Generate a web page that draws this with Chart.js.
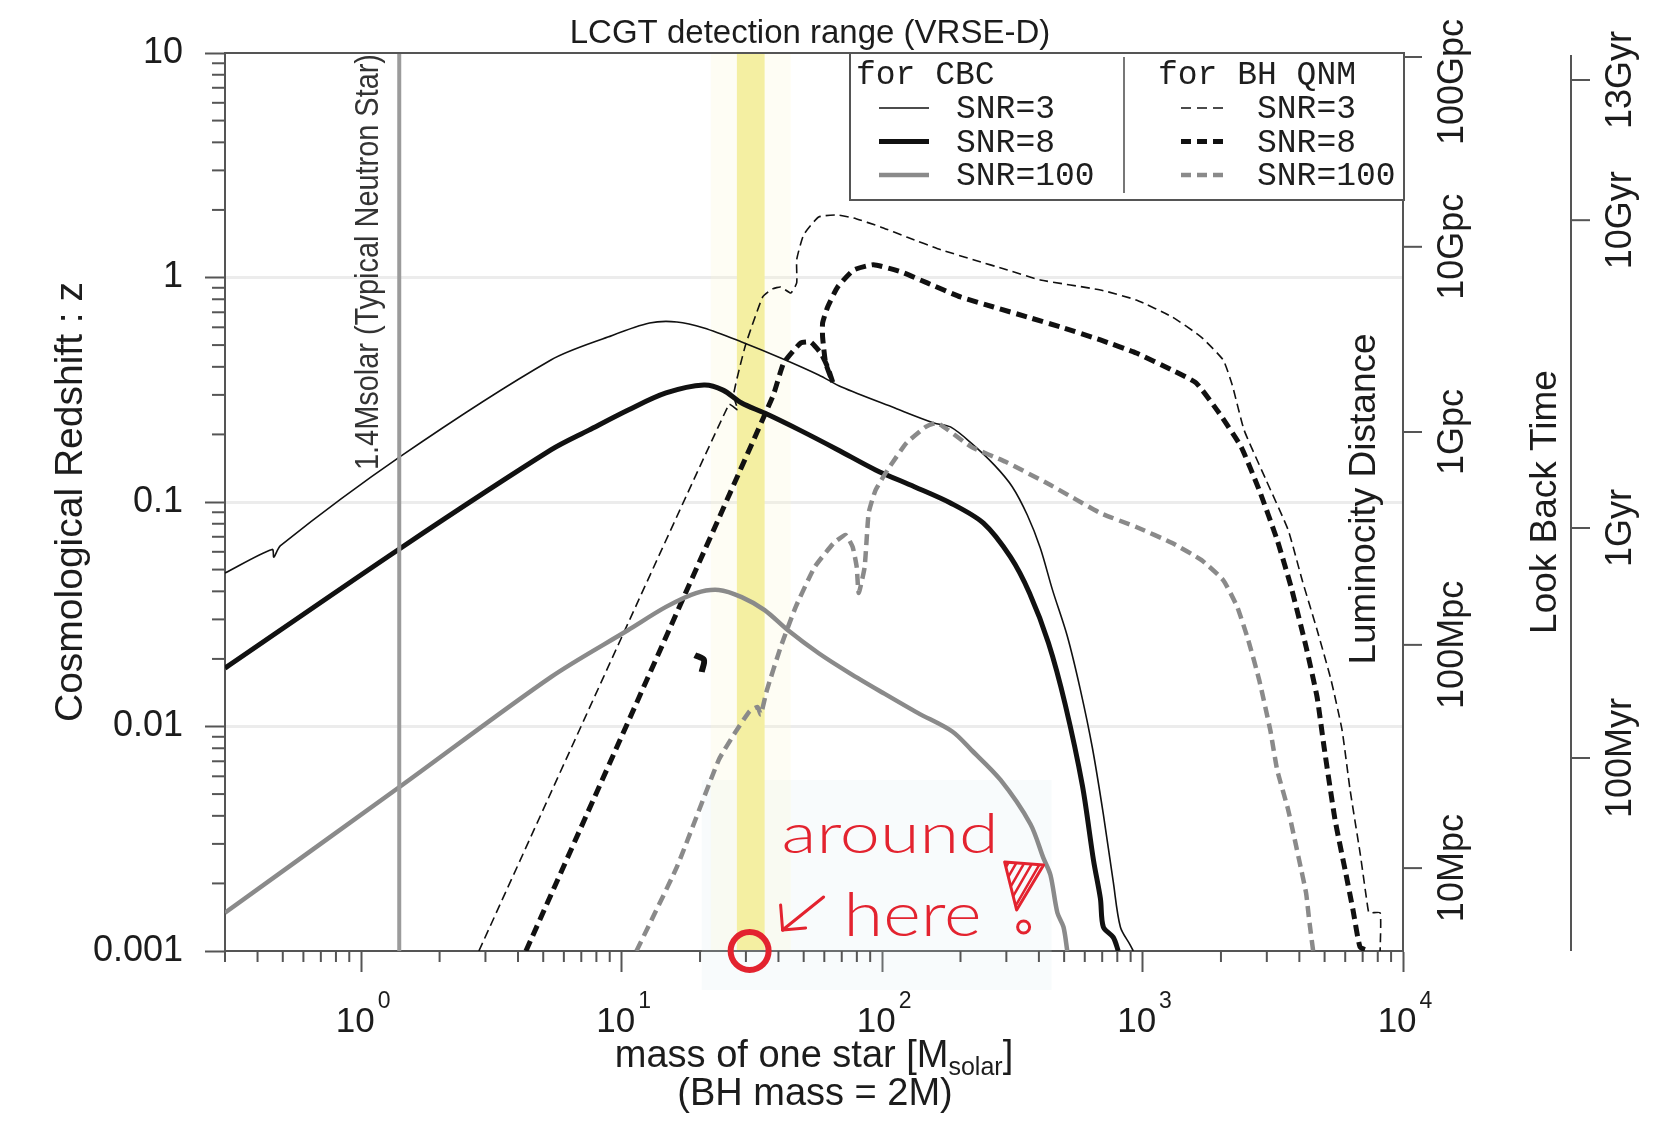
<!DOCTYPE html>
<html>
<head>
<meta charset="utf-8">
<title>LCGT detection range (VRSE-D)</title>
<script src="https://cdn.jsdelivr.net/npm/chart.js@4.4.1/dist/chart.umd.min.js"></script>
<style>
    html, body { margin: 0; padding: 0; background: #fff; }
</style>
</head>
<body>
<canvas id="chart" width="1666" height="1122"></canvas>
<script>
// tick values / labels
const massTicks = [1, 10, 100, 1000, 10000];
const redshiftTicks = [0.001, 0.01, 0.1, 1, 10];
const redshiftTickLabels = ['0.001', '0.01', '0.1', '1', '10'];
const distanceTickZ = [9.6, 1.37, 0.205, 0.0231, 0.00234];
const distanceTickLabels = ['100Gpc', '10Gpc', '1Gpc', '100Mpc', '10Mpc'];
const lookbackTickZ = [7.58, 1.80, 0.0766, 0.00724];
const lookbackTickLabels = ['13Gyr', '10Gyr', '1Gyr', '100Myr'];

// [mass of one star, redshift z]
const cbcSnr3 = [
    [0.3, 0.0483], [0.455, 0.0615], [0.462, 0.0568], [0.49, 0.064], [1.42, 0.16], [5.35, 0.429],
    [8.85, 0.543], [12.8, 0.627], [16.3, 0.634], [20.7, 0.596], [28.9, 0.516], [40.8, 0.438],
    [57.1, 0.368], [69.9, 0.325], [112, 0.262], [158, 0.225], [183, 0.216], [220, 0.183],
    [270, 0.146], [316, 0.117], [361, 0.0875], [405, 0.0624], [451, 0.0406], [514, 0.0253],
    [577, 0.0146], [642, 0.00802], [707, 0.00407], [772, 0.00203], [822, 0.00128],
    [898, 0.00106], [921, 0.001]
];
const cbcSnr8 = [
    [0.3, 0.0182], [1.42, 0.0624], [5.35, 0.1705], [7.49, 0.209], [10.6, 0.257], [14.8, 0.306],
    [20.7, 0.332], [24.5, 0.315], [28.9, 0.276], [35.4, 0.249], [48.3, 0.209], [67.5, 0.171],
    [94.4, 0.139], [133, 0.117], [183, 0.099], [245, 0.0805], [311, 0.0569], [368, 0.0393],
    [435, 0.0236], [505, 0.0125], [588, 0.00543], [648, 0.00254], [689, 0.00171],
    [707, 0.00128], [772, 0.00115], [807, 0.001]
];
const cbcSnr100 = [
    [0.3, 0.00148], [1.42, 0.00543], [5.35, 0.0166], [10.6, 0.0269], [14.8, 0.0341],
    [19.3, 0.0393], [23.6, 0.0406], [28.9, 0.0377], [35.4, 0.033], [43.4, 0.0269],
    [57.1, 0.0212], [75, 0.0173], [101, 0.0141], [137, 0.0115], [186, 0.0095], [220, 0.00787],
    [285, 0.00578], [371, 0.00368], [416, 0.0026], [443, 0.00218], [471, 0.00148],
    [497, 0.00128], [514, 0.001]
];
const qnmSnr3 = [
    [2.83, 0.001], [25.8, 0.272], [27.9, 0.257], [26.9, 0.3], [29.9, 0.5], [34.8, 0.819],
    [38, 0.89], [40.8, 0.907], [44.6, 0.853], [47, 0.946], [47, 1.2], [50, 1.55], [57.1, 1.86],
    [67, 1.9], [77.8, 1.84], [98.7, 1.68], [125, 1.51], [168, 1.33], [224, 1.2], [303, 1.08],
    [405, 0.975], [689, 0.88], [946, 0.794], [1300, 0.667], [1680, 0.543], [2040, 0.429],
    [2210, 0.332], [2455, 0.209], [2983, 0.125], [3624, 0.075], [4100, 0.0449], [4680, 0.0269],
    [5295, 0.0161], [5835, 0.00964], [6265, 0.00521], [6844, 0.00273], [7280, 0.00164],
    [7410, 0.00148], [8170, 0.00148], [8170, 0.001]
];
const qnmSnr8 = [
    [4.29, 0.001], [38, 0.294], [41.9, 0.416], [48.7, 0.511], [53.2, 0.516], [58.1, 0.461],
    [61.8, 0.399], [64.6, 0.342], [60.7, 0.416], [59.1, 0.543], [59.1, 0.627], [61.8, 0.739],
    [67.5, 0.907], [77.8, 1.08], [92.7, 1.14], [118, 1.06], [149, 0.946], [200, 0.819],
    [268, 0.739], [361, 0.667], [484, 0.602], [689, 0.527], [946, 0.461], [1300, 0.387],
    [1607, 0.339], [1968, 0.249], [2391, 0.176], [2805, 0.113], [3288, 0.0677], [3719, 0.0418],
    [4246, 0.0226], [4680, 0.0135], [4977, 0.0081], [5483, 0.00384], [5993, 0.0023],
    [6430, 0.00152], [6844, 0.00104], [7410, 0.001]
];
const qnmSnr100 = [
    [11.4, 0.001], [16.3, 0.00237], [23.6, 0.0071], [27.2, 0.00935], [31, 0.0117],
    [33.3, 0.0122], [34.2, 0.0113], [36.1, 0.0145], [40.8, 0.0226], [46.6, 0.0341],
    [55.1, 0.0513], [65.2, 0.0656], [72.4, 0.0713], [77.1, 0.063], [79.9, 0.0513],
    [81.3, 0.0393], [85.7, 0.0513], [88.8, 0.0893], [94.4, 0.113], [105, 0.139], [124, 0.183],
    [147, 0.216], [163, 0.225], [220, 0.176], [298, 0.151], [443, 0.119], [689, 0.0893],
    [946, 0.0774], [1300, 0.0656], [1680, 0.0552], [2040, 0.0449], [2309, 0.0341],
    [2545, 0.0243], [2805, 0.0161], [3093, 0.00964], [3288, 0.0064], [3624, 0.00425],
    [3993, 0.00254], [4246, 0.00181], [4364, 0.00137], [4519, 0.001]
];
const neutronStarLine = [[1.4, 0.001], [1.4, 10]];
const inkBlot = [[19.1, 0.0208], [20.7, 0.0198], [20.3, 0.0175]];

const detectionBand = [27.7, 35.4];
const detectionHalo = [22, 44.6];
const circledMass = 31;

const AXIS = '#555';
const BLACK = '#111';
const GRAY = '#8a8a8a';
const RED = '#e3232f';
const SANS = '"Liberation Sans", Arial, sans-serif';
const MONO = '"Liberation Mono", "Courier New", monospace';

Chart.defaults.font.family = SANS;

function crearDataset(label, group, pairs, color, width, dash, tension) {
    return {
        label,
        group,
        data: pairs.map(([x, y]) => ({ x, y })),
        showLine: true,
        borderColor: color,
        backgroundColor: color,
        borderWidth: width,
        borderDash: dash || [],
        borderCapStyle: 'butt',
        borderJoinStyle: 'round',
        pointRadius: 0,
        pointHoverRadius: 0,
        tension: tension || 0,
        fill: false
    };
}

const datasets = [
    crearDataset('1.4Msolar', null, neutronStarLine, '#9b9b9b', 4),
    crearDataset('SNR=100', 'qnm', qnmSnr100, GRAY, 4.5, [11, 6], 0.15),
    crearDataset('SNR=100', 'cbc', cbcSnr100, GRAY, 4.5, null, 0.3),
    crearDataset('SNR=3', 'qnm', qnmSnr3, BLACK, 1.6, [9, 5], 0.15),
    crearDataset('SNR=8', 'qnm', qnmSnr8, BLACK, 5, [11, 6], 0.15),
    crearDataset('SNR=3', 'cbc', cbcSnr3, BLACK, 1.6, null, 0.3),
    crearDataset('SNR=8', 'cbc', cbcSnr8, BLACK, 5, null, 0.3),
    crearDataset('', null, inkBlot, BLACK, 6, null, 0.3)
];

function line(ctx, x1, y1, x2, y2) {
    ctx.beginPath();
    ctx.moveTo(x1, y1);
    ctx.lineTo(x2, y2);
    ctx.stroke();
}

function rotatedText(ctx, text, x, y, align, squeeze) {
    ctx.save();
    ctx.translate(x, y);
    ctx.rotate(-Math.PI / 2);
    if (squeeze) ctx.scale(squeeze, 1);
    ctx.textAlign = align || 'center';
    ctx.textBaseline = 'alphabetic';
    ctx.fillText(text, 0, 0);
    ctx.restore();
}

function drawSideAxis(ctx, yScale, lineX, top, bottom, values, labels, baselineX) {
    ctx.strokeStyle = AXIS;
    ctx.lineWidth = 2;
    line(ctx, lineX, top, lineX, bottom);
    ctx.font = `36px ${SANS}`;
    ctx.fillStyle = '#1c1c1c';
    values.forEach((z, i) => {
        const py = yScale.getPixelForValue(z);
        line(ctx, lineX, py, lineX + 19, py);
        const w = ctx.measureText(labels[i]).width;
        rotatedText(ctx, labels[i], baselineX, Math.max(py, 19 + w / 2));
    });
}

function drawLegend(ctx, chart) {
    const a = chart.chartArea;
    const box = { left: a.right - 553, top: a.top, right: a.right + 1, bottom: a.top + 147 };
    const divider = box.left + 274;
    ctx.fillStyle = '#fff';
    ctx.fillRect(box.left, box.top, box.right - box.left, box.bottom - box.top);
    ctx.strokeStyle = AXIS;
    ctx.lineWidth = 2;
    ctx.strokeRect(box.left, box.top, box.right - box.left, box.bottom - box.top);
    ctx.strokeStyle = '#777';
    line(ctx, divider, box.top + 4, divider, box.bottom - 7);

    const columns = [
        { group: 'cbc', title: 'for CBC', titleX: box.left + 6, sampleX: box.left + 29, textX: box.left + 106 },
        { group: 'qnm', title: 'for BH QNM', titleX: divider + 34, sampleX: divider + 57, textX: divider + 133 }
    ];
    const order = ['SNR=3', 'SNR=8', 'SNR=100'];
    ctx.font = `33px ${MONO}`;
    ctx.textAlign = 'left';
    ctx.textBaseline = 'alphabetic';
    columns.forEach(col => {
        ctx.fillStyle = '#1e1e1e';
        ctx.fillText(col.title, col.titleX, box.top + 31);
        order.forEach((label, row) => {
            const ds = chart.data.datasets.find(d => d.group === col.group && d.label === label);
            const sy = box.top + 55 + row * 33.5;
            ctx.save();
            ctx.strokeStyle = ds.borderColor;
            ctx.lineWidth = ds.borderWidth;
            ctx.setLineDash(col.group === 'qnm' ? [10, 6] : []);
            line(ctx, col.sampleX, sy, col.sampleX + (col.group === 'qnm' ? 46 : 50), sy);
            ctx.restore();
            ctx.fillStyle = '#1e1e1e';
            ctx.fillText(label, col.textX, sy + 10);
        });
    });
}

function drawAnnotation(ctx, chart) {
    const { chartArea: a, scales: { x } } = chart;
    const cx = x.getPixelForValue(circledMass);
    const cy = a.bottom;
    ctx.save();
    ctx.strokeStyle = RED;
    ctx.fillStyle = RED;
    ctx.lineCap = 'round';
    ctx.lineJoin = 'round';

    ctx.lineWidth = 6;
    ctx.beginPath();
    ctx.arc(cx, cy, 19, 0, Math.PI * 2);
    ctx.stroke();

    // arrow
    ctx.lineWidth = 3;
    line(ctx, cx + 74, cy - 54, cx + 33, cy - 21);
    line(ctx, cx + 33, cy - 21, cx + 31, cy - 46);
    line(ctx, cx + 33, cy - 21, cx + 56, cy - 23);

    // handwritten words
    ctx.font = `300 56px Lato, ${SANS}`;
    ctx.textAlign = 'left';
    ctx.textBaseline = 'alphabetic';
    ctx.save();
    ctx.translate(cx + 32, cy - 98);
    ctx.scale(217 / ctx.measureText('around').width, 1);
    ctx.fillText('around', 0, 0);
    ctx.restore();
    ctx.save();
    ctx.font = `300 62px Lato, ${SANS}`;
    ctx.translate(cx + 94, cy - 15);
    ctx.scale(138 / ctx.measureText('here').width, 1);
    ctx.fillText('here', 0, 0);
    ctx.restore();

    // exclamation mark: hatched triangle + dot
    const t = [[cx + 255, cy - 89], [cx + 294, cy - 86], [cx + 267, cy - 41]];
    ctx.lineWidth = 3;
    ctx.beginPath();
    ctx.moveTo(t[0][0], t[0][1]);
    ctx.lineTo(t[1][0], t[1][1]);
    ctx.lineTo(t[2][0], t[2][1]);
    ctx.closePath();
    ctx.stroke();
    ctx.save();
    ctx.clip();
    ctx.lineWidth = 2.5;
    for (let k = -40; k < 50; k += 8) {
        line(ctx, cx + 255 + k, cy - 40, cx + 285 + k, cy - 92);
    }
    ctx.restore();
    ctx.beginPath();
    ctx.arc(cx + 274, cy - 24, 6, 0, Math.PI * 2);
    ctx.stroke();
    ctx.restore();
}

const decorPlugin = {
    id: 'decor',
    beforeDatasetsDraw(chart) {
        const { ctx, chartArea: a, scales: { x } } = chart;
        const cx = x.getPixelForValue(circledMass);
        ctx.save();
        ctx.fillStyle = 'rgba(214, 234, 240, 0.18)';
        ctx.fillRect(cx - 48, a.bottom - 171, 350, 210);
        const h0 = x.getPixelForValue(detectionHalo[0]);
        const h1 = x.getPixelForValue(detectionHalo[1]);
        ctx.fillStyle = 'rgba(250, 246, 205, 0.22)';
        ctx.fillRect(h0, a.top + 1, h1 - h0, a.bottom - a.top - 2);
        const b0 = x.getPixelForValue(detectionBand[0]);
        const b1 = x.getPixelForValue(detectionBand[1]);
        ctx.fillStyle = '#f4efa2';
        ctx.fillRect(b0, a.top + 1, b1 - b0, a.bottom - a.top - 2);
        ctx.restore();
    },
    afterDraw(chart) {
        const { ctx, chartArea: a, scales: { x, y } } = chart;
        ctx.save();

        // minor ticks
        ctx.strokeStyle = AXIS;
        ctx.lineWidth = 2;
        [0.001, 0.01, 0.1, 1].forEach(d => {
            for (let k = 2; k <= 9; k++) {
                const py = y.getPixelForValue(k * d);
                line(ctx, a.left - 13, py, a.left, py);
            }
        });
        [0.1, 1, 10, 100, 1000].forEach(d => {
            for (let k = 2; k <= 9; k++) {
                const v = k * d;
                if (v < 0.3 - 1e-9 || v >= 10000) continue;
                const px = x.getPixelForValue(v);
                line(ctx, px, a.bottom, px, a.bottom + 11);
            }
        });
        // top frame
        line(ctx, a.left, a.top, a.right, a.top);

        // right-hand axes
        drawSideAxis(ctx, y, a.right, a.top, a.bottom, distanceTickZ, distanceTickLabels, a.right + 60);
        drawSideAxis(ctx, y, a.right + 168, a.top + 2, a.bottom, lookbackTickZ, lookbackTickLabels, a.right + 228);

        // mass tick labels 10^n
        ctx.fillStyle = '#1c1c1c';
        ctx.textAlign = 'left';
        ctx.textBaseline = 'alphabetic';
        massTicks.forEach(v => {
            const px = x.getPixelForValue(v);
            const exp = String(Math.round(Math.log10(v)));
            ctx.font = `35px ${SANS}`;
            const wb = ctx.measureText('10').width;
            ctx.font = `23px ${SANS}`;
            const we = ctx.measureText(exp).width;
            const start = px + 2 - (wb + 3 + we) / 2;
            ctx.font = `35px ${SANS}`;
            ctx.fillText('10', start, a.bottom + 81);
            ctx.font = `23px ${SANS}`;
            ctx.fillText(exp, start + wb + 3, a.bottom + 57);
        });

        // axis titles
        const midX = (a.left + a.right) / 2;
        ctx.font = `38px ${SANS}`;
        const p1 = 'mass of one star [M';
        const p3 = ']';
        const w1 = ctx.measureText(p1).width;
        const w3 = ctx.measureText(p3).width;
        ctx.font = `25px ${SANS}`;
        const w2 = ctx.measureText('solar').width;
        const sx = midX - (w1 + w2 + w3) / 2;
        ctx.font = `38px ${SANS}`;
        ctx.fillText(p1, sx, a.bottom + 116);
        ctx.fillText(p3, sx + w1 + w2, a.bottom + 116);
        ctx.font = `25px ${SANS}`;
        ctx.fillText('solar', sx + w1, a.bottom + 124);
        ctx.font = `38px ${SANS}`;
        ctx.textAlign = 'center';
        ctx.fillText('(BH mass = 2M)', midX + 1, a.bottom + 154);

        ctx.font = `33px ${SANS}`;
        ctx.fillText('LCGT detection range (VRSE-D)', midX - 4, a.top - 10);

        ctx.font = `39px ${SANS}`;
        rotatedText(ctx, 'Cosmological Redshift : z', 82, (a.top + a.bottom) / 2);
        ctx.font = `37px ${SANS}`;
        rotatedText(ctx, 'Luminocity Distance', a.right - 28, (a.top + a.bottom) / 2 - 3);
        rotatedText(ctx, 'Look Back Time', a.right + 153, (a.top + a.bottom) / 2);

        ctx.font = `34px ${SANS}`;
        ctx.fillStyle = '#333';
        rotatedText(ctx, '1.4Msolar (Typical Neutron Star)', x.getPixelForValue(1.4) - 21, a.top + 417, 'left', 0.85);

        drawLegend(ctx, chart);
        drawAnnotation(ctx, chart);
        ctx.restore();
    }
};

new Chart(document.getElementById('chart'), {
    type: 'scatter',
    data: { datasets },
    options: {
        responsive: false,
        animation: false,
        events: [],
        layout: { padding: { left: 0, top: 53, right: 263, bottom: 0 } },
        plugins: {
            legend: { display: false },
            tooltip: { enabled: false },
            title: { display: false }
        },
        scales: {
            x: {
                type: 'logarithmic',
                min: 0.3,
                max: 10000,
                afterBuildTicks: (scale) => { scale.ticks = massTicks.map(v => ({ value: v })); },
                afterFit: (scale) => { scale.height = 171; },
                ticks: { display: false },
                grid: { drawOnChartArea: false, tickLength: 21, tickColor: AXIS, tickWidth: 2 },
                border: { color: AXIS, width: 2 }
            },
            y: {
                type: 'logarithmic',
                min: 0.001,
                max: 10,
                afterBuildTicks: (scale) => { scale.ticks = redshiftTicks.map(v => ({ value: v })); },
                afterFit: (scale) => { scale.width = 225; },
                ticks: {
                    autoSkip: false,
                    padding: 22,
                    color: '#1c1c1c',
                    font: { size: 36 },
                    callback: (value, index) => redshiftTickLabels[index]
                },
                grid: {
                    color: (c) => (c.tick && c.tick.value > 0.001 && c.tick.value < 10) ? '#ececec' : 'rgba(0,0,0,0)',
                    lineWidth: 3,
                    tickLength: 20,
                    tickColor: AXIS,
                    tickWidth: 2
                },
                border: { color: AXIS, width: 2 }
            }
        }
    },
    plugins: [decorPlugin]
});
</script>
</body>
</html>
